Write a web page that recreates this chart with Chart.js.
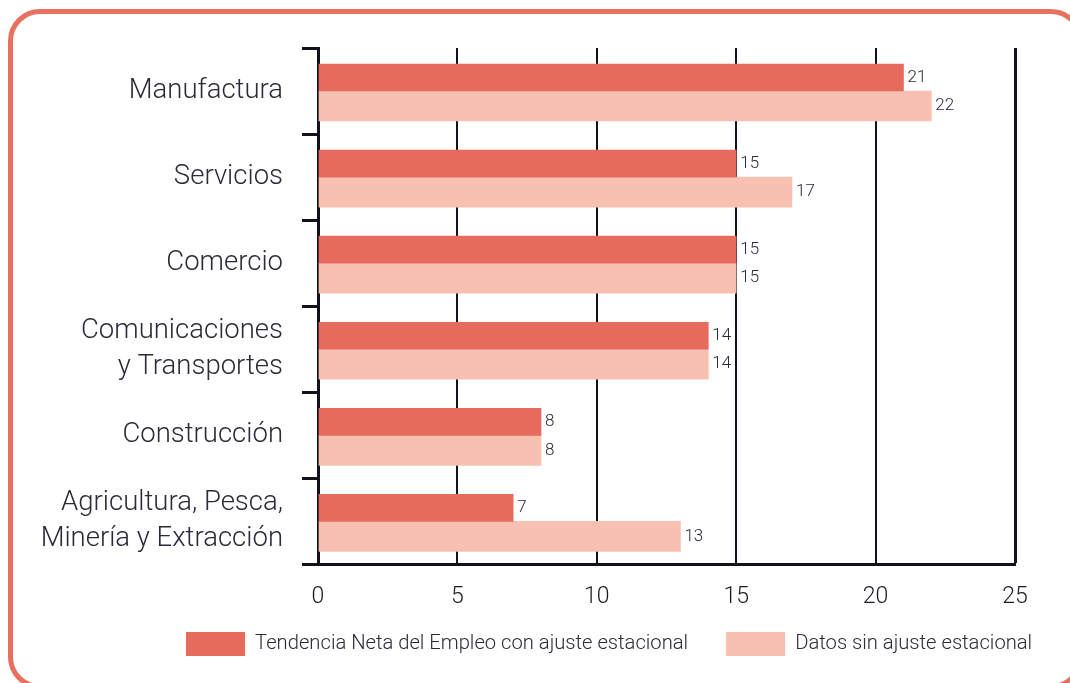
<!DOCTYPE html>
<html>
<head>
<meta charset="utf-8">
<script src="https://cdn.jsdelivr.net/npm/chart.js@4.4.1/dist/chart.umd.min.js"></script>
<style>
  html, body { margin: 0; padding: 0; background: #ffffff; }
  #wrap { position: relative; width: 1070px; height: 683px; overflow: hidden; }
  #card { position: absolute; left: 8px; top: 9px; width: 1075px; height: 680px;
          border: 5px solid #E8705E; border-radius: 32px; box-sizing: border-box; }
  #box { position: absolute; left: 0; top: 0; width: 1070px; height: 683px; }
</style>
</head>
<body>
<div id="wrap">
  <div id="card"></div>
  <div id="box"><canvas id="c"></canvas></div>
</div>
<script>
const categories = [
  'Manufactura',
  'Servicios',
  'Comercio',
  ['Comunicaciones', 'y Transportes'],
  'Construcción',
  ['Agricultura, Pesca,', 'Minería y Extracción']
];
const seriesNames = ['Tendencia Neta del Empleo con ajuste estacional', 'Datos sin ajuste estacional'];
const adjustedValues = [21, 15, 15, 14, 8, 7];
const unadjustedValues = [22, 17, 15, 14, 8, 13];
const xTicks = [0, 5, 10, 15, 20, 25];

const FONT = 'Roboto, "Liberation Sans", sans-serif';
const AXIS = '#12121f';
const TEXT = '#2a2a38';

const valueLabels = {
  id: 'valueLabels',
  afterDatasetsDraw(chart) {
    const ctx = chart.ctx;
    ctx.save();
    ctx.font = '300 17px ' + FONT;
    ctx.fillStyle = TEXT;
    ctx.textAlign = 'left';
    ctx.textBaseline = 'middle';
    chart.data.datasets.forEach((ds, di) => {
      const meta = chart.getDatasetMeta(di);
      meta.data.forEach((el, i) => {
        ctx.fillText(String(ds.data[i]), el.x + 4, el.y);
      });
    });
    ctx.restore();
  }
};

// place the legend row where the reference shows it
const legendPlacer = {
  id: 'legendPlacer',
  afterLayout(chart) {
    const lg = chart.legend;
    if (!lg) return;
    const w = lg.right - lg.left;
    const h = lg.bottom - lg.top;
    lg.left = 148; lg.right = 148 + w;
    lg.top = 594; lg.bottom = 594 + h;
  }
};

new Chart(document.getElementById('c'), {
  type: 'bar',
  data: {
    labels: categories,
    datasets: [
      { label: seriesNames[0], data: adjustedValues, backgroundColor: '#E76B5C', borderWidth: 0, barThickness: 27 },
      { label: seriesNames[1], data: unadjustedValues, backgroundColor: '#F7C0B1', borderWidth: 0, barThickness: 30 }
    ]
  },
  options: {
    indexAxis: 'y',
    responsive: true,
    maintainAspectRatio: false,
    animation: false,
    layout: { padding: { left: 0, right: 55, top: 48, bottom: -19 } },
    plugins: {
      tooltip: { enabled: false },
      legend: {
        position: 'bottom',
        align: 'start',
        labels: {
          boxWidth: 59,
          boxHeight: 24,
          padding: 38,
          color: TEXT,
          font: { family: FONT, size: 20.2, weight: 300 }
        }
      }
    },
    scales: {
      x: {
        min: 0,
        max: 25,
        afterBuildTicks(scale) { scale.ticks = xTicks.map(v => ({ value: v })); },
        grid: {
          color: AXIS,
          lineWidth: (c) => (c.tick && c.tick.value === 25 ? 3 : 2),
          drawTicks: false
        },
        border: { color: AXIS, width: 3 },
        ticks: {
          padding: 19,
          color: '#1a1a24',
          font: { family: FONT, size: 23, weight: 300 }
        }
      },
      y: {
        afterFit(scale) { scale.width = 318; scale.paddingTop = 0; scale.paddingBottom = 0; },
        grid: {
          offset: true,
          drawOnChartArea: false,
          tickLength: 16,
          color: AXIS,
          lineWidth: 3
        },
        border: { color: AXIS, width: 3 },
        ticks: {
          autoSkip: false,
          padding: 19,
          color: TEXT,
          font: { family: FONT, size: 27.5, weight: 300, lineHeight: 1.31 }
        }
      }
    }
  },
  plugins: [valueLabels, legendPlacer]
});
</script>
</body>
</html>
